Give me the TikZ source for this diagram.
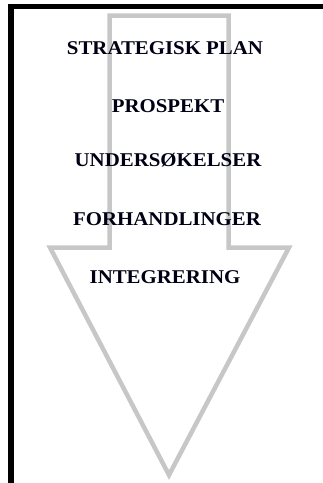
\documentclass[tikz,border=0pt]{standalone}
\usepackage{fontspec}
\setmainfont{Liberation Serif}
\newcommand{\wide}[1]{\scalebox{1.07}[1]{#1}}
\begin{document}
\begin{tikzpicture}[x=1pt,y=-1pt,
  frameline/.style={line width=5.5pt,black},
  arrowline/.style={line width=4.5pt,draw=black!22,line join=miter},
  step label/.style={font=\bfseries\fontsize{19.5}{22}\selectfont,text=black!92!blue,inner sep=0pt,anchor=base}]
  \useasboundingbox (0,0) rectangle (323,483);
  % page frame: top and left rule
  \coordinate (fa) at (11,483);
  \coordinate (fb) at (11,6.5);
  \coordinate (fc) at (323,6.5);
  \draw[frameline,line cap=butt] (fa) -- (fb) -- (fc);
  % downward block arrow
  \draw[arrowline] (109.5,15.5) -- (228.5,15.5) -- (228.5,247.5) -- (289,247.5)
     -- (169,475) -- (50,247.5) -- (109.5,247.5) -- cycle;
  % steps
  \node[step label] (s1) at (165,54) {\wide{STRATEGISK PLAN}};
  \node[step label] (s2) at (168,112.5) {\wide{PROSPEKT}};
  \node[step label] (s3) at (168,166) {\wide{UNDERSØKELSER}};
  \node[step label] (s4) at (167,225) {\wide{FORHANDLINGER}};
  \node[step label] (s5) at (165,283) {\wide{INTEGRERING}};
\end{tikzpicture}
\end{document}
